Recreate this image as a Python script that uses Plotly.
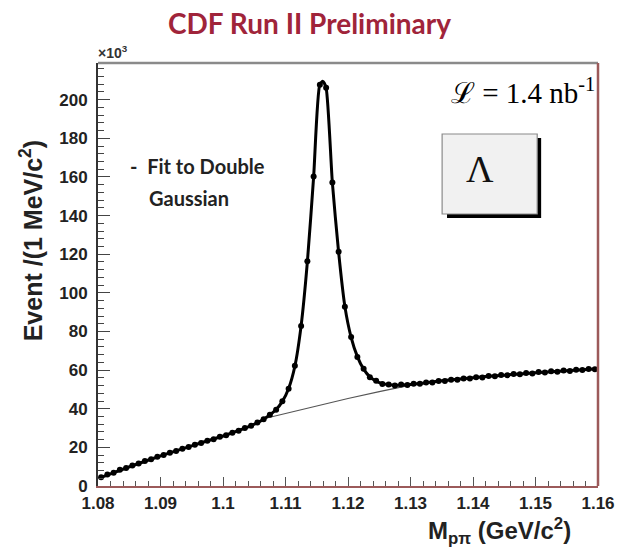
import plotly.graph_objects as go

# ---- data, counts in units of 10^3 ----
mass = [round(1.0805 + 0.001 * i, 4) for i in range(80)]
counts = [
    4.5, 5.9, 6.9, 8.4, 9.3, 10.6, 11.6, 12.9, 13.8, 15.1,
    16.0, 17.2, 18.1, 19.3, 20.2, 21.4, 22.2, 23.4, 24.2, 25.5,
    26.3, 27.6, 28.6, 30.0, 31.2, 32.9, 34.5, 36.9, 39.5, 43.9,
    50.3, 62.2, 82.8, 116.3, 160.2, 207.8, 206.2, 157.1, 121.3, 92.8,
    77.2, 66.8, 60.7, 56.3, 54.5, 52.8, 52.6, 52.0, 52.5, 52.3,
    53.0, 52.9, 53.6, 53.6, 54.3, 54.3, 55.0, 55.0, 55.7, 55.6,
    56.3, 56.2, 56.9, 56.8, 57.5, 57.3, 58.0, 57.8, 58.5, 58.3,
    59.0, 58.8, 59.4, 59.2, 59.8, 59.5, 60.2, 60.0, 60.6, 60.5,
]

fit_mass = [1.0805, 1.0855, 1.0905, 1.0955, 1.1005, 1.1045, 1.1065, 1.1085,
            1.1095, 1.1105, 1.1115, 1.1125, 1.1135, 1.1145, 1.1155, 1.1160,
            1.1165, 1.1175, 1.1185, 1.1195, 1.1205, 1.1215, 1.1225, 1.1235,
            1.1245, 1.1255, 1.1275, 1.1300, 1.1350, 1.1400, 1.1450, 1.1500,
            1.1550, 1.1600]
fit_counts = [4.5, 10.5, 16.1, 21.3, 26.4, 31.2, 34.6, 39.6,
              43.8, 50.5, 62.0, 83.0, 116.0, 160.0, 208.0, 209.5,
              206.0, 157.0, 121.0, 93.0, 77.0, 67.0, 60.5, 56.5,
              54.3, 53.0, 52.2, 52.6, 54.5, 56.1, 57.4, 58.6,
              59.7, 60.7]

bkg_mass = [1.1065, 1.1100, 1.1150, 1.1200, 1.1250, 1.1300]
bkg_counts = [34.8, 37.6, 41.4, 45.3, 48.9, 52.2]

x_ticks = [1.08, 1.09, 1.10, 1.11, 1.12, 1.13, 1.14, 1.15, 1.16]
x_tick_labels = ["1.08", "1.09", "1.1", "1.11", "1.12", "1.13", "1.14", "1.15", "1.16"]
y_ticks = [0, 20, 40, 60, 80, 100, 120, 140, 160, 180, 200]

# ---- figure ----
W, H = 627, 550
L, R, T, B = 98, 608, 63, 486


def px(x):
    return (x - L) / (R - L)


def py(y):
    return (B - y) / (B - T)


fig = go.Figure()
fig.add_trace(go.Scatter(x=bkg_mass, y=bkg_counts, mode="lines",
                         line=dict(color="#555555", width=1.2), hoverinfo="skip"))
fig.add_trace(go.Scatter(x=fit_mass, y=fit_counts, mode="lines",
                         line=dict(color="black", width=3, shape="spline", smoothing=0.6),
                         hoverinfo="skip"))
fig.add_trace(go.Scatter(x=mass, y=counts, mode="markers",
                         marker=dict(color="black", size=6, symbol="circle")))

red = "#9c5a5a"
tickfont = dict(family="Liberation Sans, Arial, sans-serif", size=17, color="#222222", weight="bold")

fig.update_layout(
    width=W, height=H,
    margin=dict(l=L, r=W - R, t=T, b=H - B, pad=0),
    paper_bgcolor="white", plot_bgcolor="white",
    showlegend=False,
    xaxis=dict(range=[1.08, 1.16], tickvals=x_ticks, ticktext=x_tick_labels,
               ticks="inside", ticklen=9, tickwidth=1, tickcolor="#555",
               minor=dict(dtick=0.002, ticks="inside", ticklen=5, tickcolor="#555", tick0=1.08),
               showgrid=False, zeroline=False, showline=True, linecolor=red, linewidth=2,
               tickfont=tickfont, ticklabelstandoff=1),
    yaxis=dict(range=[0, 219], tickvals=y_ticks,
               ticks="inside", ticklen=12, tickwidth=1, tickcolor="#444",
               minor=dict(dtick=4, ticks="inside", ticklen=6, tickcolor="#444", tick0=0),
               showgrid=False, zeroline=False, showline=True, linecolor="#333", linewidth=2,
               tickfont=tickfont, ticklabelstandoff=5),
)

# frame top and right
fig.add_shape(type="line", xref="paper", yref="paper", x0=0, x1=1, y0=1, y1=1,
              line=dict(color="#8a8a8a", width=2.5))
fig.add_shape(type="line", xref="paper", yref="paper", x0=1, x1=1, y0=0, y1=1,
              line=dict(color=red, width=2.5))

# Lambda box with shadow
fig.add_shape(type="rect", xref="paper", yref="paper",
              x0=px(454), x1=px(550), y0=py(218), y1=py(138),
              line=dict(color="black", width=0), fillcolor="black")
fig.add_shape(type="rect", xref="paper", yref="paper",
              x0=px(449), x1=px(546), y0=py(214), y1=py(134),
              line=dict(color="#8a8a8a", width=1.2), fillcolor="#f1f1f1")

anns = [
    dict(text="CDF Run II Preliminary", x=px(314), y=py(23), xanchor="center", yanchor="middle",
         font=dict(family="Lato, Open Sans, sans-serif", size=28, color="#a0243a", weight="bold")),
    dict(text="×10<sup>3</sup>", x=px(96), y=py(52), xanchor="left", yanchor="middle",
         font=dict(family="Liberation Sans, Arial", size=14, color="#333", weight="bold")),
    dict(text="Event /(1 MeV/c<sup>2</sup>)", x=px(30), y=py(241), xanchor="center", yanchor="middle",
         textangle=-90,
         font=dict(family="Liberation Sans, Arial", size=25, color="#222", weight="bold")),
    dict(text="M<sub>pπ</sub> (GeV/c<sup>2</sup>)", x=px(582), y=py(531), xanchor="right", yanchor="middle",
         font=dict(family="Liberation Sans, Arial", size=24, color="#222", weight="bold")),
    dict(text="-  Fit to Double", x=px(129), y=py(166), xanchor="left", yanchor="middle",
         font=dict(family="Lato, Open Sans, sans-serif", size=20, color="#222", weight="bold")),
    dict(text="Gaussian", x=px(148), y=py(198), xanchor="left", yanchor="middle",
         font=dict(family="Lato, Open Sans, sans-serif", size=20, color="#222", weight="bold")),
    dict(text="ℒ = 1.4 nb<sup>-1</sup>", x=px(607), y=py(91), xanchor="right", yanchor="middle",
         font=dict(family="Liberation Serif, DejaVu Serif, serif", size=29, color="black")),
    dict(text="Λ", x=px(488), y=py(169), xanchor="center", yanchor="middle",
         font=dict(family="Liberation Serif, DejaVu Serif, serif", size=38, color="#111")),
]
for a in anns:
    fig.add_annotation(xref="paper", yref="paper", showarrow=False, **a)

fig.write_html("out.html")
